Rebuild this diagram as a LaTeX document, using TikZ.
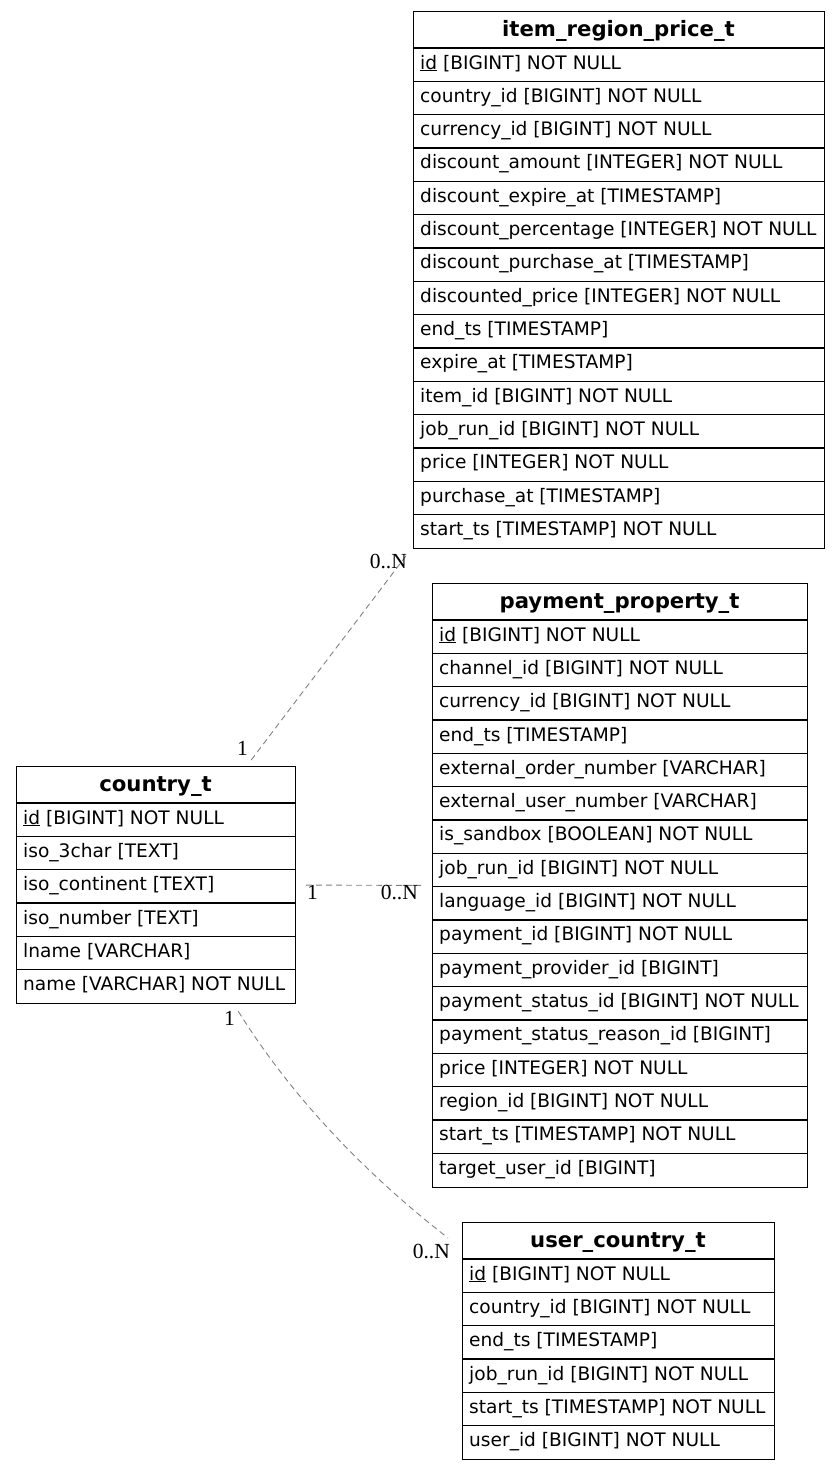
\documentclass[tikz,border=0pt]{standalone}
\usepackage{fontspec}
\setmainfont{DejaVu Sans}
\newfontfamily\lblfont{Liberation Serif}
\definecolor{relgray}{HTML}{808080}
\tikzset{
  tblframe/.style={draw=black, line width=1.2pt, inner sep=0pt, anchor=north west},
  rowline/.style={draw=black, line width=1.2pt},
  tblhead/.style={anchor=base, inner sep=0pt, font=\bfseries\fontsize{21.2}{24}\selectfont},
  tblrow/.style={anchor=base west, inner sep=0pt, font=\fontsize{18.6}{22}\selectfont},
  rel/.style={draw=relgray, line width=0.9pt, dash pattern=on 6pt off 4pt},
  card/.style={inner sep=0pt, font=\lblfont\fontsize{21.5}{24}\selectfont}
}
\newcommand{\dbtable}[7]{%
  \pgfmathsetmacro\tblh{37+#5*33.33}%
  \foreach \r [count=\i] in {#7} {
    \draw[rowline] (#2, #3+37+\i*33.33-33.33) -- ++(#4,0);
    \node[tblrow] at (#2+7, #3+37+\i*33.33-33.33+21) {\r};
  }
  \node[tblhead] at (#2+#4/2, #3+25.5) {#6};
  \node[tblframe, minimum width=#4pt, minimum height=\tblh pt] (#1) at (#2,#3) {};
}
\begin{document}
\begin{tikzpicture}[x=1pt, y=-1pt]
\useasboundingbox (0,0) rectangle (840,1470);

\dbtable{irp}{413}{11}{411}{15}{item\_region\_price\_t}{%
\underline{id} [BIGINT] NOT NULL,
country\_id [BIGINT] NOT NULL,
currency\_id [BIGINT] NOT NULL,
discount\_amount [INTEGER] NOT NULL,
discount\_expire\_at [TIMESTAMP],
discount\_percentage [INTEGER] NOT NULL,
discount\_purchase\_at [TIMESTAMP],
discounted\_price [INTEGER] NOT NULL,
end\_ts [TIMESTAMP],
expire\_at [TIMESTAMP],
item\_id [BIGINT] NOT NULL,
job\_run\_id [BIGINT] NOT NULL,
price [INTEGER] NOT NULL,
purchase\_at [TIMESTAMP],
start\_ts [TIMESTAMP] NOT NULL}

\dbtable{pay}{432}{583}{375}{17}{payment\_property\_t}{%
\underline{id} [BIGINT] NOT NULL,
channel\_id [BIGINT] NOT NULL,
currency\_id [BIGINT] NOT NULL,
end\_ts [TIMESTAMP],
external\_order\_number [VARCHAR],
external\_user\_number [VARCHAR],
is\_sandbox [BOOLEAN] NOT NULL,
job\_run\_id [BIGINT] NOT NULL,
language\_id [BIGINT] NOT NULL,
payment\_id [BIGINT] NOT NULL,
payment\_provider\_id [BIGINT],
payment\_status\_id [BIGINT] NOT NULL,
payment\_status\_reason\_id [BIGINT],
price [INTEGER] NOT NULL,
region\_id [BIGINT] NOT NULL,
start\_ts [TIMESTAMP] NOT NULL,
target\_user\_id [BIGINT]}

\dbtable{country}{16}{766}{279}{6}{country\_t}{%
\underline{id} [BIGINT] NOT NULL,
iso\_3char [TEXT],
iso\_continent [TEXT],
iso\_number [TEXT],
lname [VARCHAR],
name [VARCHAR] NOT NULL}

\dbtable{uc}{462}{1222}{312}{6}{user\_country\_t}{%
\underline{id} [BIGINT] NOT NULL,
country\_id [BIGINT] NOT NULL,
end\_ts [TIMESTAMP],
job\_run\_id [BIGINT] NOT NULL,
start\_ts [TIMESTAMP] NOT NULL,
user\_id [BIGINT] NOT NULL}

% relations
\draw[rel] ([xshift=-45pt,yshift=6pt]country.north east) -- ([xshift=-5pt,yshift=-4pt]irp.south west);
\node[card, anchor=base east] (c1a) at (248,755) {1};
\node[card, anchor=base east] (c1b) at (407,568) {0..N};

\draw[rel] ([xshift=10pt]country.east) -- ([xshift=-11pt]pay.west);
\node[card, anchor=base west] (c2a) at (307,899) {1};
\node[card, anchor=base east] (c2b) at (418,899) {0..N};

\draw[rel] ([xshift=-58pt,yshift=-7pt]country.south east) .. controls (300,1110) and (380,1185) .. ([xshift=-14pt,yshift=-16pt]uc.north west);
\node[card, anchor=base east] (c3a) at (235,1025) {1};
\node[card, anchor=base east] (c3b) at (450,1258) {0..N};
\end{tikzpicture}
\end{document}
